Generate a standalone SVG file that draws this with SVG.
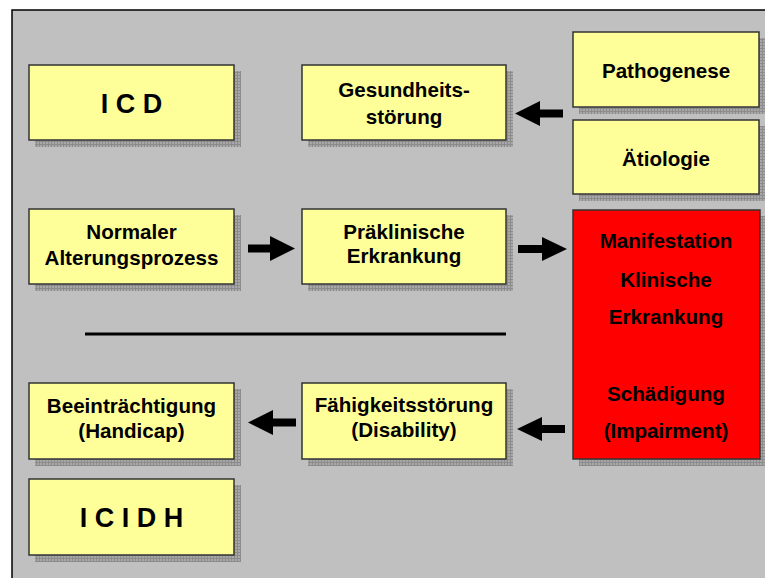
<svg xmlns="http://www.w3.org/2000/svg" width="765" height="578" viewBox="0 0 765 578">
<defs>
<pattern id="grid" width="3" height="3" patternUnits="userSpaceOnUse">
<rect width="3" height="3" fill="#a8a8a8"/>
<path d="M0 0.5H3M0.5 0V3" stroke="#8c8c8c" stroke-width="1"/>
</pattern>
<style>
.sh{fill:url(#grid)}
.bx{fill:#FFFF99;stroke:#333;stroke-width:1.5}
.red{fill:#FF0000;stroke:#333;stroke-width:1.5}
.t{font-family:"Liberation Sans",Arial,sans-serif;font-weight:bold;font-size:20.6px;fill:#000;text-anchor:middle}
.big{font-size:27px}
.arr{fill:#000}
</style>
</defs>
<rect x="0" y="0" width="765" height="578" fill="#fff"/>
<rect x="12" y="10" width="760" height="575" fill="#C0C0C0" stroke="#000" stroke-width="1.5"/>

<g id="icd">
<rect class="sh" x="35" y="71" width="206" height="76"/>
<rect class="bx" x="29" y="65" width="205" height="75"/>
<text class="t big" x="131.5" y="113">I C D</text>
</g>
<g id="gesundheit">
<rect class="sh" x="308" y="71" width="205" height="76"/>
<rect class="bx" x="302" y="65" width="204" height="75"/>
<text class="t" x="404" y="97">Gesundheits-</text>
<text class="t" x="404" y="124">störung</text>
</g>
<g id="pathogenese">
<rect class="sh" x="579" y="38" width="187" height="76"/>
<rect class="bx" x="573" y="32" width="186" height="75"/>
<text class="t" x="666" y="78">Pathogenese</text>
</g>
<g id="aetiologie">
<rect class="sh" x="579" y="126" width="187" height="75"/>
<rect class="bx" x="573" y="120" width="186" height="74"/>
<text class="t" x="666" y="166">Ätiologie</text>
</g>
<g id="normaler">
<rect class="sh" x="35" y="215" width="206" height="76"/>
<rect class="bx" x="29" y="209" width="205" height="75"/>
<text class="t" x="131.5" y="239">Normaler</text>
<text class="t" x="131.5" y="265">Alterungsprozess</text>
</g>
<g id="praeklinisch">
<rect class="sh" x="308" y="215" width="205" height="76"/>
<rect class="bx" x="302" y="209" width="204" height="75"/>
<text class="t" x="404" y="239">Präklinische</text>
<text class="t" x="404" y="263">Erkrankung</text>
</g>
<g id="manifestation">
<rect class="sh" x="579" y="216" width="187" height="250"/>
<rect class="red" x="573" y="210" width="187" height="249"/>
<text class="t" x="666" y="248">Manifestation</text>
<text class="t" x="666" y="287">Klinische</text>
<text class="t" x="666" y="324">Erkrankung</text>
<text class="t" x="666" y="401">Schädigung</text>
<text class="t" x="666" y="438">(Impairment)</text>
</g>
<g id="beeintraechtigung">
<rect class="sh" x="35" y="389" width="206" height="77"/>
<rect class="bx" x="29" y="383" width="205" height="76"/>
<text class="t" x="131.5" y="413">Beeinträchtigung</text>
<text class="t" x="131.5" y="438">(Handicap)</text>
</g>
<g id="faehigkeit">
<rect class="sh" x="308" y="389" width="205" height="77"/>
<rect class="bx" x="302" y="383" width="204" height="76"/>
<text class="t" x="404" y="412">Fähigkeitsstörung</text>
<text class="t" x="404" y="437">(Disability)</text>
</g>
<g id="icidh">
<rect class="sh" x="35" y="485" width="206" height="77"/>
<rect class="bx" x="29" y="479" width="205" height="76"/>
<text class="t big" x="131.5" y="527">I C I D H</text>
</g>

<g id="connectors">
<polygon class="arr" points="515,113.5 540,101 540,109.5 563,109.5 563,117.5 540,117.5 540,126"/>
<polygon class="arr" points="295,248.5 270,236 270,244.5 248,244.5 248,252.5 270,252.5 270,261"/>
<polygon class="arr" points="567,249 542,237 542,245 518,245 518,253 542,253 542,261"/>
<polygon class="arr" points="517,429 542,417 542,425 565,425 565,433 542,433 542,441"/>
<polygon class="arr" points="248,422.5 273,410 273,418.5 296,418.5 296,426.5 273,426.5 273,435"/>
<line x1="85" y1="334" x2="506" y2="334" stroke="#000" stroke-width="3"/>
</g>
</svg>
